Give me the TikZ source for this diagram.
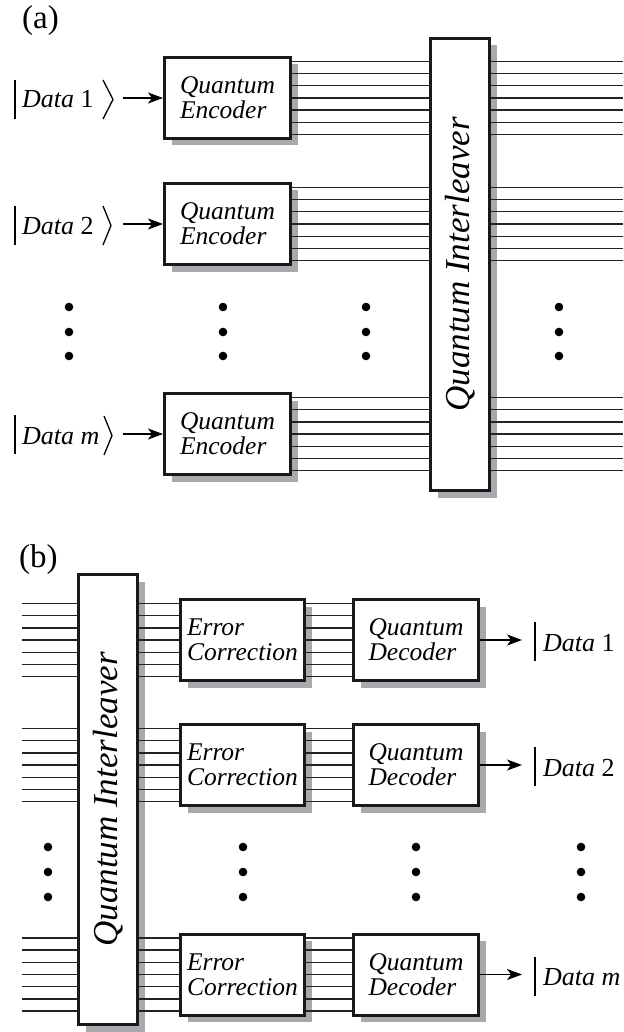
\documentclass[tikz,border=0pt]{standalone}
\usepackage{fontspec}
\setmainfont{Liberation Serif}
\usetikzlibrary{arrows.meta,calc,shadows}
\definecolor{shgray}{RGB}{167,169,172}
\definecolor{wirec}{RGB}{35,35,35}
\begin{document}
\begin{tikzpicture}[x=1pt,y=-1pt,
  blk/.style={draw=black!90, line width=3pt, fill=white, inner sep=0pt,
    minimum width=126pt, minimum height=81pt, align=left,
    font=\fontsize{25.5}{25}\selectfont\itshape,
    drop shadow={shadow xshift=7pt, shadow yshift=-7pt, opacity=1, fill=shgray}},
  iltext/.style={inner sep=0pt, font=\fontsize{35}{35}\selectfont\itshape},
  wire/.style={draw=wirec, line width=1.4pt},
  arr/.style={draw=black, line width=1.4pt, -{Stealth[length=15pt,width=11pt,inset=4pt]}},
  lbl/.style={anchor=base west, inner sep=0pt, font=\fontsize{26}{26}\selectfont},
  ket/.style={draw=black, line width=1.3pt},
  dotn/.style={circle, fill=black, inner sep=0pt, minimum size=8.6pt},
  panel/.style={anchor=base west, inner sep=0pt, font=\fontsize{33}{33}\selectfont}
]
\useasboundingbox (0,0) rectangle (623,1032);

% ---------------- (a) ----------------
\node[panel] (pa) at (22,29) {(a)};

\node[blk] (e1) at (227.5,98) {Quantum\\Encoder};
\node[blk] (e2) at (227.5,224) {Quantum\\Encoder};
\node[blk] (e3) at (227.5,434) {Quantum\\Encoder};

\node[blk, minimum width=59pt, minimum height=452pt] (ia) at (460,264.5) {};
\node[iltext, rotate=90] (iat) at (ia.center) {Quantum Interleaver};

\coordinate (aR) at (623,0);
\coordinate (ain) at (123,0);
\foreach \n in {e1,e2,e3}{
  \foreach \k in {-3,...,3}{
    \draw[wire] ($(\n.east)+(0,\k*12.2)$) -- ($(\n.east -| ia.west)+(0,\k*12.2)$);
    \draw[wire] ($(\n.east -| ia.east)+(0,\k*12.2)$) -- ($(\n.east -| aR)+(0,\k*12.2)$);
  }
  \draw[arr] (\n.west -| ain) -- (\n.west);
}

\node[lbl] (da1) at (22,108) {\textit{Data} 1};
\node[lbl] (da2) at (22,234) {\textit{Data} 2};
\node[lbl] (da3) at (22,444) {\textit{Data m}};
\draw[ket] (15,80) -- (15,119);
\draw[ket] (103,80) -- (113,99.5) -- (103,119);
\draw[ket] (15,206) -- (15,245);
\draw[ket] (103,206) -- (111,225.5) -- (103,245);
\draw[ket] (15,415) -- (15,454);
\draw[ket] (104,416) -- (112,435.5) -- (104,455);

\foreach \x [count=\i] in {69,223,366,559}{
  \foreach \y [count=\j] in {307,332,356}{
    \node[dotn] (ad\i\j) at (\x,\y) {};
  }
}

% ---------------- (b) ----------------
\node[panel] (pb) at (19,567) {(b)};

\node[blk, minimum width=59pt, minimum height=450pt] (ib) at (108,799.5) {};
\node[iltext, rotate=90] (ibt) at (ib.center) {Quantum Interleaver};

\node[blk, minimum width=124pt] (c1) at (242.5,640) {Error\\Correction};
\node[blk, minimum width=124pt] (c2) at (242.5,765) {Error\\Correction};
\node[blk, minimum width=124pt] (c3) at (242.5,974.5) {Error\\Correction};

\node[blk, minimum width=125pt] (q1) at (416,640) {Quantum\\Decoder};
\node[blk, minimum width=125pt] (q2) at (416,765) {Quantum\\Decoder};
\node[blk, minimum width=125pt] (q3) at (416,974.5) {Quantum\\Decoder};

\coordinate (bL) at (22,0);
\coordinate (bout) at (522,0);
\foreach \r in {1,2,3}{
  \foreach \k in {-3,...,3}{
    \draw[wire] ($(c\r.west -| bL)+(0,\k*12.2)$) -- ($(c\r.west -| ib.west)+(0,\k*12.2)$);
    \draw[wire] ($(c\r.west -| ib.east)+(0,\k*12.2)$) -- ($(c\r.west)+(0,\k*12.2)$);
    \draw[wire] ($(c\r.east)+(0,\k*12.2)$) -- ($(q\r.west)+(0,\k*12.2)$);
  }
  \draw[arr] (q\r.east) -- (q\r.east -| bout);
}

\node[lbl] (db1) at (543,651) {\textit{Data} 1};
\node[lbl] (db2) at (543,776) {\textit{Data} 2};
\node[lbl] (db3) at (543,985.5) {\textit{Data m}};
\draw[ket] (535,622) -- (535,661);
\draw[ket] (535,747) -- (535,786);
\draw[ket] (535,956.5) -- (535,995.5);

\foreach \x [count=\i] in {48,243,416,581}{
  \foreach \y [count=\j] in {847,872,897}{
    \node[dotn] (bd\i\j) at (\x,\y) {};
  }
}
\end{tikzpicture}
\end{document}
